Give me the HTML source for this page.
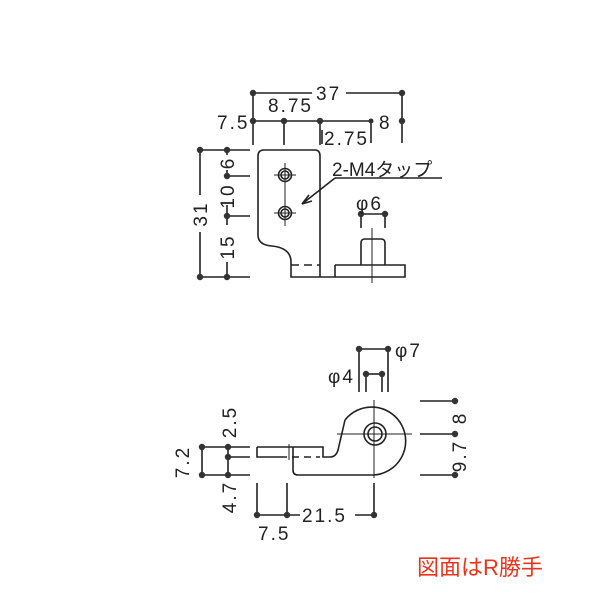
<!DOCTYPE html>
<html><head><meta charset="utf-8"><style>
html,body{margin:0;padding:0;background:#fff;}
svg{display:block;}
text{font-family:"Liberation Sans","Noto Sans CJK JP",sans-serif;fill:#222;}
</style></head><body>
<svg width="600" height="600" viewBox="0 0 600 600" xmlns="http://www.w3.org/2000/svg">
<g stroke="#222" stroke-width="1.6" fill="none">
<line x1="253" y1="93" x2="312" y2="93"/><line x1="346" y1="93" x2="402" y2="93"/>
<line x1="253" y1="121" x2="371" y2="121"/><line x1="253" y1="93" x2="253" y2="145"/>
<line x1="284" y1="121" x2="284" y2="145"/><line x1="320" y1="121" x2="320" y2="145"/>
<line x1="371" y1="121" x2="371" y2="143"/><line x1="402" y1="93" x2="402" y2="143"/>
<line x1="322" y1="130" x2="322" y2="144"/>
<line x1="200" y1="150" x2="250" y2="150"/><line x1="200" y1="277" x2="250" y2="277"/>
<line x1="200" y1="150" x2="200" y2="195"/><line x1="200" y1="232" x2="200" y2="277"/>
<line x1="227" y1="150" x2="227" y2="155"/><line x1="227" y1="170" x2="227" y2="178"/>
<line x1="227" y1="176" x2="250" y2="176"/><line x1="227" y1="216" x2="250" y2="216"/>
<line x1="227" y1="205" x2="227" y2="225"/><line x1="227" y1="262" x2="227" y2="277"/>
<path d="M258 235 L258 156 Q258 150 264 150 L315 150 Q320 150 320 156 L320 277"/>
<path d="M258 235 Q258 245 272 246 Q291 248 291 262 L291 277 L405 277 L405 265 L335 265"/>
<line x1="335" y1="265" x2="335" y2="277"/>
<line x1="291" y1="265" x2="320" y2="265" stroke-dasharray="8,5"/>
<path d="M361 265 L361 243 Q361 239 365 239 L381 239 Q385 239 385 243 L385 265"/>
<line x1="372" y1="228" x2="372" y2="283" stroke-width="1"/>
<circle cx="285" cy="175" r="6.5"/><circle cx="285" cy="175" r="4"/>
<circle cx="285" cy="213" r="6.5"/><circle cx="285" cy="213" r="4"/>
<line x1="274" y1="175" x2="296" y2="175" stroke-width="1"/><line x1="274" y1="213" x2="296" y2="213" stroke-width="1"/>
<line x1="285" y1="163" x2="285" y2="226" stroke-width="1"/>
<line x1="335" y1="178" x2="442" y2="178"/><line x1="335" y1="178" x2="302" y2="204"/>
<path d="M302 204 L309 195 M302 204 L312 201"/>
<line x1="361" y1="214" x2="385" y2="214"/>
<line x1="361" y1="214" x2="361" y2="228"/><line x1="385" y1="214" x2="385" y2="228"/>
<line x1="359" y1="349" x2="388" y2="349"/><line x1="359" y1="349" x2="359" y2="392"/><line x1="388" y1="349" x2="388" y2="392"/>
<line x1="366" y1="374" x2="382" y2="374"/><line x1="366" y1="374" x2="366" y2="392"/><line x1="382" y1="374" x2="382" y2="392"/>
<path d="M345 420 A34 34 0 1 1 374 475"/>
<circle cx="375" cy="434" r="11"/><circle cx="375" cy="434" r="7"/>
<line x1="337" y1="434" x2="412" y2="434" stroke-width="1"/><line x1="374" y1="400" x2="374" y2="478" stroke-width="1"/>
<path d="M257 447 L323 447 L323 457 L330 457 Q336 457 338 450 L345 420"/>
<path d="M280 457 L257 457 L257 447"/>
<line x1="280" y1="457" x2="320" y2="457" stroke-dasharray="7,5"/>
<path d="M293 447 L293 470 Q293 475 298 475 L374 475"/>
<line x1="289" y1="444" x2="289" y2="460" stroke-width="1"/>
<line x1="202" y1="447" x2="250" y2="447"/><line x1="228" y1="457" x2="250" y2="457"/><line x1="202" y1="475" x2="250" y2="475"/>
<line x1="202" y1="447" x2="202" y2="475"/><line x1="228" y1="447" x2="228" y2="475"/>
<line x1="257" y1="483" x2="257" y2="515"/><line x1="287" y1="483" x2="287" y2="515"/>
<line x1="257" y1="515" x2="300" y2="515"/><line x1="355" y1="515" x2="374" y2="515"/>
<line x1="374" y1="483" x2="374" y2="515"/>
<line x1="420" y1="401" x2="455" y2="401"/><line x1="420" y1="434" x2="455" y2="434"/><line x1="420" y1="475" x2="455" y2="475"/>
</g>
<g fill="#333">
<circle cx="253" cy="93" r="3.2"/><circle cx="402" cy="93" r="3.2"/>
<circle cx="253" cy="121" r="3.2"/><circle cx="284" cy="121" r="3.2"/><circle cx="320" cy="121" r="3.2"/><circle cx="371" cy="121" r="2.5"/><circle cx="402" cy="121" r="3.2"/>
<circle cx="200" cy="150" r="3.2"/><circle cx="227" cy="150" r="3.2"/><circle cx="227" cy="176" r="3.2"/><circle cx="227" cy="216" r="3.2"/>
<circle cx="200" cy="277" r="3.2"/><circle cx="227" cy="277" r="3.2"/>
<circle cx="361" cy="214" r="3.2"/><circle cx="385" cy="214" r="3.2"/>
<circle cx="359" cy="349" r="3.2"/><circle cx="388" cy="349" r="3.2"/><circle cx="366" cy="374" r="3.2"/><circle cx="382" cy="374" r="3.2"/>
<circle cx="202" cy="447" r="3.2"/><circle cx="228" cy="447" r="3.2"/><circle cx="228" cy="457" r="3.2"/><circle cx="202" cy="475" r="3.2"/><circle cx="228" cy="475" r="3.2"/>
<circle cx="257" cy="515" r="3.2"/><circle cx="287" cy="515" r="3.2"/><circle cx="374" cy="515" r="3.2"/>
<circle cx="455" cy="401" r="3.2"/><circle cx="455" cy="434" r="3.2"/><circle cx="455" cy="475" r="3.2"/>
</g>
<g font-size="19" letter-spacing="2">
<text x="316" y="100">37</text>
<text x="217" y="129">7.5</text>
<text x="268" y="112">8.75</text>
<text x="379" y="129">8</text>
<text x="324" y="145">2.75</text>
<text x="332" y="176" font-size="19" letter-spacing="0">2-M4タップ</text>
<text x="356" y="210">φ6</text>
<text x="395" y="357">φ7</text>
<text x="328" y="383">φ4</text>
<text x="302" y="522">21.5</text>
<text x="258" y="540">7.5</text>
<text transform="translate(207,214) rotate(-90)" text-anchor="middle">31</text>
<text transform="translate(234,163) rotate(-90)" text-anchor="middle">6</text>
<text transform="translate(234,196) rotate(-90)" text-anchor="middle">10</text>
<text transform="translate(234,247) rotate(-90)" text-anchor="middle">15</text>
<text transform="translate(189,462) rotate(-90)" text-anchor="middle">7.2</text>
<text transform="translate(236,422) rotate(-90)" text-anchor="middle">2.5</text>
<text transform="translate(236,497) rotate(-90)" text-anchor="middle">4.7</text>
<text transform="translate(466,418) rotate(-90)" text-anchor="middle">8</text>
<text transform="translate(466,456) rotate(-90)" text-anchor="middle">9.7</text>
</g>
<text x="417" y="575" font-size="22" style="fill:#e8341c">図面はR勝手</text>
</svg>
</body></html>
